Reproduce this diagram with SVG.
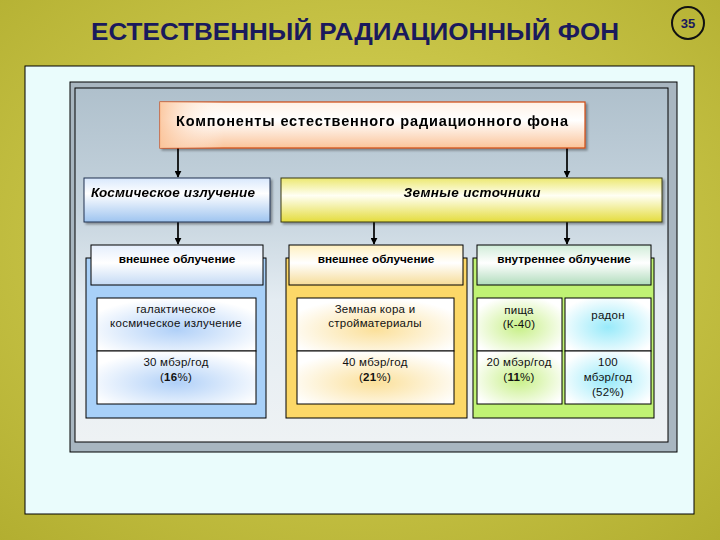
<svg xmlns="http://www.w3.org/2000/svg" width="720" height="540" viewBox="0 0 720 540">
<defs>
<radialGradient id="bg" cx="0.5" cy="0.45" r="0.75">
<stop offset="0" stop-color="#dcd85c"/>
<stop offset="1" stop-color="#b2ae30"/>
</radialGradient>
<linearGradient id="frameFill" x1="0" y1="0" x2="0" y2="1">
<stop offset="0" stop-color="#afc0cc"/>
<stop offset="0.35" stop-color="#c6d4de"/>
<stop offset="0.6" stop-color="#e4ecf2"/>
<stop offset="1" stop-color="#eef2f4"/>
</linearGradient>
<linearGradient id="gTop" x1="0" y1="0" x2="0" y2="1">
<stop offset="0" stop-color="#fff2e6"/>
<stop offset="0.4" stop-color="#ffffff"/>
<stop offset="1" stop-color="#fbc49a"/>
</linearGradient>
<linearGradient id="gTopL" x1="0" y1="0" x2="1" y2="0">
<stop offset="0" stop-color="#fbc49a" stop-opacity="0.9"/>
<stop offset="0.15" stop-color="#ffffff" stop-opacity="0"/>
<stop offset="1" stop-color="#ffffff" stop-opacity="0"/>
</linearGradient>
<linearGradient id="gCos" x1="0" y1="0" x2="0" y2="1">
<stop offset="0" stop-color="#d8e8fc"/>
<stop offset="0.35" stop-color="#ffffff"/>
<stop offset="1" stop-color="#9ec4f0"/>
</linearGradient>
<linearGradient id="gEarth" x1="0" y1="0" x2="0" y2="1">
<stop offset="0" stop-color="#ece870"/>
<stop offset="0.4" stop-color="#fffff4"/>
<stop offset="1" stop-color="#e4dc3c"/>
</linearGradient>
<linearGradient id="hBlue" x1="0" y1="0" x2="0" y2="1">
<stop offset="0" stop-color="#e4eefc"/>
<stop offset="0.45" stop-color="#ffffff"/>
<stop offset="1" stop-color="#c4daf4"/>
</linearGradient>
<linearGradient id="hYel" x1="0" y1="0" x2="0" y2="1">
<stop offset="0" stop-color="#fff0c0"/>
<stop offset="0.45" stop-color="#ffffff"/>
<stop offset="1" stop-color="#f6dc98"/>
</linearGradient>
<linearGradient id="hGrn" x1="0" y1="0" x2="0" y2="1">
<stop offset="0" stop-color="#d0ecd8"/>
<stop offset="0.45" stop-color="#ffffff"/>
<stop offset="1" stop-color="#b0dcbc"/>
</linearGradient>
<radialGradient id="cBlue" cx="0.5" cy="0.6" r="0.6">
<stop offset="0" stop-color="#b0d0f8"/>
<stop offset="1" stop-color="#ffffff"/>
</radialGradient>
<radialGradient id="cYel" cx="0.5" cy="0.6" r="0.6">
<stop offset="0" stop-color="#fbe09a"/>
<stop offset="1" stop-color="#ffffff"/>
</radialGradient>
<radialGradient id="cGrn" cx="0.5" cy="0.55" r="0.6">
<stop offset="0" stop-color="#c8f088"/>
<stop offset="1" stop-color="#ffffff"/>
</radialGradient>
<radialGradient id="cCyan" cx="0.5" cy="0.55" r="0.6">
<stop offset="0" stop-color="#98eafa"/>
<stop offset="1" stop-color="#ffffff"/>
</radialGradient>
<filter id="sh" x="-5%" y="-10%" width="115%" height="130%">
<feDropShadow dx="2" dy="2" stdDeviation="1.2" flood-color="#000" flood-opacity="0.35"/>
</filter>
<marker id="arr" viewBox="0 0 10 10" refX="9" refY="5" markerWidth="7" markerHeight="7" orient="auto" markerUnits="userSpaceOnUse">
<path d="M0,0 L10,5 L0,10 z" fill="#000"/>
</marker>
</defs>
<style>
.t{font-family:"Liberation Sans",Arial,sans-serif;fill:#000;text-anchor:middle}
.hb{font-size:14.5px;font-weight:bold}
.bi{font-size:13.5px;font-weight:bold;font-style:italic}
.hd{font-size:11.8px;font-weight:bold}
.c{font-size:11.5px;fill:#111;letter-spacing:0.25px}
.conn{stroke:#000;stroke-width:1.7;fill:none;marker-end:url(#arr)}
.box{stroke:#000;stroke-width:1}
</style>
<rect x="0" y="0" width="720" height="540" fill="url(#bg)"/>
<g id="title">
<text x="355" y="40" font-family="'Liberation Sans',Arial,sans-serif" font-size="23" font-weight="bold" fill="#1a1a5c" text-anchor="middle" textLength="528" lengthAdjust="spacingAndGlyphs">ЕСТЕСТВЕННЫЙ РАДИАЦИОННЫЙ ФОН</text>
</g>
<g id="pagenum">
<circle cx="688" cy="23" r="16" fill="none" stroke="#111" stroke-width="2"/>
<text x="688" y="28" font-family="'Liberation Sans',Arial,sans-serif" font-size="13" font-weight="bold" fill="#1a1a5c" text-anchor="middle">35</text>
</g>
<rect x="25" y="66" width="669" height="448" fill="#eafcfc" stroke="#000" stroke-width="1"/>
<g id="frame">
<rect x="70" y="82" width="607" height="370" fill="#a8b6c0" stroke="#000" stroke-width="1"/>
<rect x="75" y="88" width="593" height="354" fill="url(#frameFill)" stroke="#000" stroke-width="1"/>
</g>
<g id="columns">
<rect x="86" y="258" width="180" height="160" fill="#a8d0f8" class="box"/>
<rect x="286" y="258" width="181" height="160" fill="#fcd868" class="box"/>
<rect x="473" y="258" width="181" height="160" fill="#c0f274" class="box"/>
</g>
<g id="connectors">
<line x1="178" y1="148" x2="178" y2="177" class="conn"/>
<line x1="567" y1="148" x2="567" y2="177" class="conn"/>
<line x1="178" y1="222" x2="178" y2="244" class="conn"/>
<line x1="374" y1="222" x2="374" y2="244" class="conn"/>
<line x1="567" y1="222" x2="567" y2="244" class="conn"/>
</g>
<g id="n-top" filter="url(#sh)">
<rect x="160" y="102" width="425" height="46" fill="url(#gTop)" stroke="#d04a10" stroke-width="1.2"/>
<rect x="160" y="102" width="425" height="46" fill="url(#gTopL)"/>
<text x="372" y="126" class="t hb" textLength="392" lengthAdjust="spacing">Компоненты естественного радиационного фона</text>
</g>
<g id="n-cosmic" filter="url(#sh)">
<rect x="84" y="178" width="186" height="44" fill="url(#gCos)" stroke="#1e3050" stroke-width="1"/>
<text x="173" y="197" class="t bi" textLength="164" lengthAdjust="spacing">Космическое излучение</text>
</g>
<g id="n-earth" filter="url(#sh)">
<rect x="281" y="178" width="381" height="44" fill="url(#gEarth)" stroke="#3a3a10" stroke-width="1"/>
<text x="472" y="197" class="t bi" textLength="137" lengthAdjust="spacing">Земные источники</text>
</g>
<g id="n-h1">
<rect x="91" y="245" width="172" height="40" fill="url(#hBlue)" class="box"/>
<text x="177" y="263" class="t hd">внешнее облучение</text>
</g>
<g id="n-h2">
<rect x="289" y="245" width="174" height="40" fill="url(#hYel)" class="box"/>
<text x="376" y="263" class="t hd">внешнее облучение</text>
</g>
<g id="n-h3">
<rect x="477" y="245" width="174" height="40" fill="url(#hGrn)" class="box"/>
<text x="564" y="263" class="t hd">внутреннее облучение</text>
</g>
<g id="n-c1">
<rect x="97" y="298" width="159" height="53" fill="url(#cBlue)" class="box"/>
<rect x="97" y="351" width="159" height="53" fill="url(#cBlue)" class="box"/>
<text x="176" y="313" class="c t">галактическое</text>
<text x="176" y="327" class="c t">космическое излучение</text>
<text x="176" y="366" class="c t">30 мбэр/год</text>
<text x="176" y="381" class="c t">(<tspan font-weight="bold">16</tspan>%)</text>
</g>
<g id="n-c2">
<rect x="297" y="298" width="157" height="53" fill="url(#cYel)" class="box"/>
<rect x="297" y="351" width="157" height="53" fill="url(#cYel)" class="box"/>
<text x="375" y="313" class="c t">Земная кора и</text>
<text x="375" y="327" class="c t">стройматериалы</text>
<text x="375" y="366" class="c t">40 мбэр/год</text>
<text x="375" y="381" class="c t">(<tspan font-weight="bold">21</tspan>%)</text>
</g>
<g id="n-c3">
<rect x="477" y="298" width="85" height="53" fill="url(#cGrn)" class="box"/>
<rect x="477" y="351" width="85" height="53" fill="url(#cGrn)" class="box"/>
<text x="519" y="314" class="c t">пища</text>
<text x="519" y="328" class="c t">(К-40)</text>
<text x="519" y="366" class="c t">20 мбэр/год</text>
<text x="519" y="381" class="c t">(<tspan font-weight="bold">11</tspan>%)</text>
</g>
<g id="n-c4">
<rect x="565" y="298" width="86" height="53" fill="url(#cCyan)" class="box"/>
<rect x="565" y="351" width="86" height="53" fill="url(#cCyan)" class="box"/>
<text x="608" y="319" class="c t">радон</text>
<text x="608" y="366" class="c t">100</text>
<text x="608" y="381" class="c t">мбэр/год</text>
<text x="608" y="396" class="c t">(52%)</text>
</g>
</svg>
